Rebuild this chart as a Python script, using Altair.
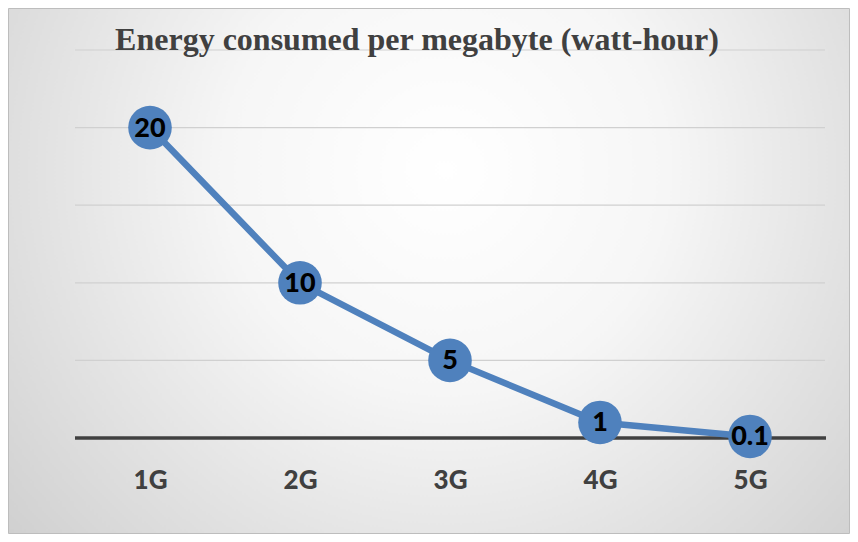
import altair as alt
import pandas as pd

generations = ["1G", "2G", "3G", "4G", "5G"]
energy_wh = [20, 10, 5, 1, 0.1]
labels = ["20", "10", "5", "1", "0.1"]
grid_values = [5, 10, 15, 20, 25]
title_text = "Energy consumed per megabyte (watt-hour)"

df = pd.DataFrame({"gen": generations, "energy": energy_wh, "label": labels})
grid_df = pd.DataFrame({"energy": grid_values})
zero_df = pd.DataFrame({"energy": [0]})

W, H = 750, 388
PAD = {"left": 67, "top": 42, "right": 25, "bottom": 96}

ysc = alt.Scale(domain=[0, 25], nice=False)

bg = alt.Chart(pd.DataFrame({"a": [0]})).mark_rect(
    color=alt.Gradient(
        gradient="radial",
        x1=0.52, y1=0.38, r1=0.0,
        x2=0.52, y2=0.38, r2=0.75,
        stops=[alt.GradientStop(color="#ffffff", offset=0.0),
               alt.GradientStop(color="#f6f6f6", offset=0.35),
               alt.GradientStop(color="#c9c9c9", offset=1.0)],
    ),
    stroke="#bdbdbd", strokeWidth=1,
).encode(
    x=alt.value(-PAD["left"] + 0.5), x2=alt.value(W + PAD["right"] - 0.5),
    y=alt.value(-PAD["top"] + 0.5), y2=alt.value(H + PAD["bottom"] - 0.5),
)

grid = alt.Chart(grid_df).mark_rule(color="#d0d0d0", strokeWidth=1.2).encode(
    y=alt.Y("energy:Q", scale=ysc, axis=None), x=alt.value(0), x2=alt.value(W))
zero = alt.Chart(zero_df).mark_rule(color="#404040", strokeWidth=3.5).encode(
    y=alt.Y("energy:Q", scale=ysc, axis=None), x=alt.value(0), x2=alt.value(W + 1))

title = alt.Chart(pd.DataFrame({"t": [title_text]})).mark_text(
    font="Liberation Serif", fontSize=32, fontWeight="bold", color="#404040",
    align="center", baseline="alphabetic").encode(
    text="t:N", x=alt.value(342), y=alt.value(0))

x_enc = alt.X("gen:N", sort=generations, scale=alt.Scale(type="point", padding=0.5),
              axis=alt.Axis(title=None, ticks=False, labelAngle=0, domain=False,
                            labelFont="Lato", labelFontSize=26, labelFontWeight=900,
                            labelColor="#404040", labelPadding=29, grid=False, zindex=1))
y_enc = alt.Y("energy:Q", scale=ysc, axis=None)

base = alt.Chart(df)
line = base.mark_line(color="#4f81bd", strokeWidth=6.5).encode(x=x_enc, y=y_enc)
pts = base.mark_point(filled=True, shape="circle", size=1900, color="#4f81bd", opacity=1).encode(
    x=alt.X("gen:N", sort=generations), y=alt.Y("energy:Q"))
txt = base.mark_text(font="Lato", fontSize=27, fontWeight=900, color="#000000",
                     align="center", baseline="middle", dy=1).encode(
    x=alt.X("gen:N", sort=generations), y=alt.Y("energy:Q"), text="label:N")

chart = alt.layer(bg, grid, zero, title, line, pts, txt).properties(
    width=W, height=H, padding=PAD, autosize=alt.AutoSizeParams(type="none"),
).configure_view(stroke=None).configure(background="white")

chart.save("out.html", embed_options={"renderer": "svg", "actions": False})
